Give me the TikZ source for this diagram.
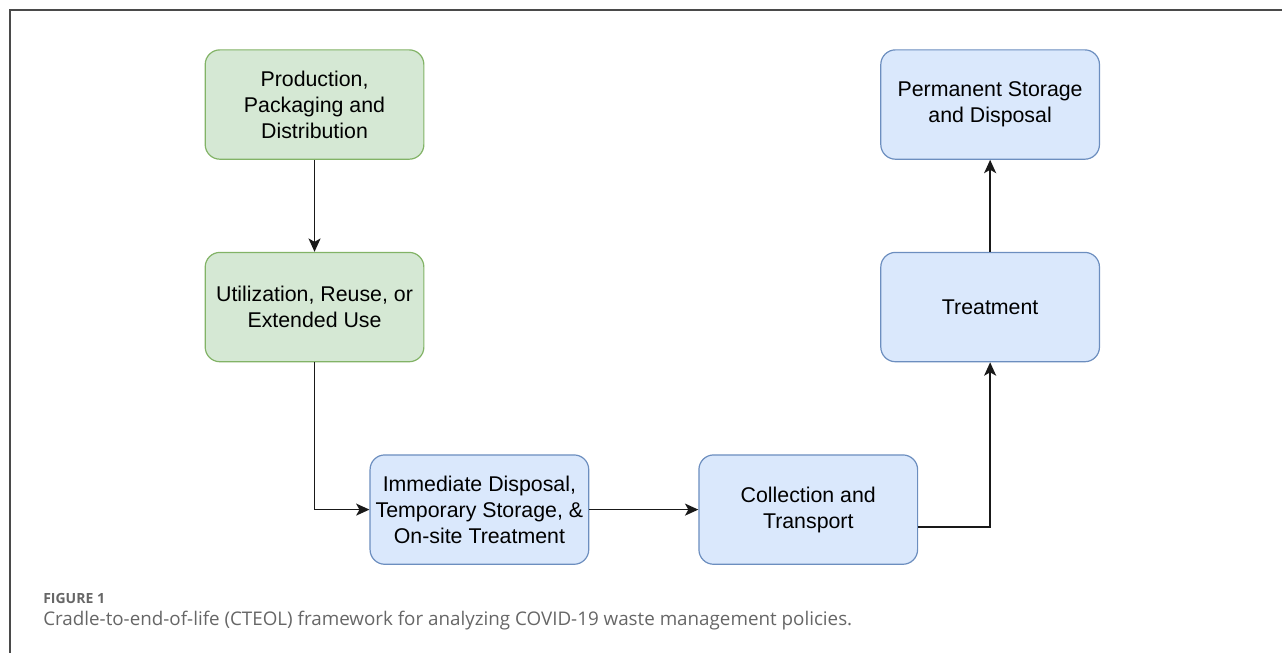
\documentclass[tikz,border=0pt]{standalone}
\usepackage{fontspec}
\setmainfont{Liberation Sans}
\newfontfamily\capfont{Open Sans}
\usetikzlibrary{positioning,arrows.meta}

\definecolor{stagefill}{HTML}{D5E8D4}
\definecolor{stageline}{HTML}{82B366}
\definecolor{wastefill}{HTML}{DAE8FC}
\definecolor{wasteline}{HTML}{6C8EBF}
\definecolor{framegray}{HTML}{4A4A4A}
\definecolor{capgray}{HTML}{666666}

\begin{document}
\begin{tikzpicture}[
	box/.style={rectangle, rounded corners=11pt, align=center, minimum width=164pt, minimum height=82pt, inner sep=0pt, line width=0.9pt, text=black, font=\fontsize{16}{19.4}\selectfont},
	stage/.style={box, draw=stageline, fill=stagefill},
	waste/.style={box, draw=wasteline, fill=wastefill},
	flow/.style={-{Stealth[length=10pt,width=9pt,inset=2.5pt]}, line width=1.2pt, black!90}
	]

	\useasboundingbox (0,0) rectangle (961.5pt,-489.75pt);
	\draw [framegray, line width=0.9pt] (7.5pt,-489.75pt) |- (961.5pt,-7.5pt);

		\node (production) [stage] at (235.9pt,-78.4pt) {Production,\\Packaging and\\Distribution};
		\node (utilization) [stage, below=69pt of production] {Utilization, Reuse, or\\Extended Use};
		\node (immediate) [waste, below right=69pt and -41.25pt of utilization] {Immediate Disposal,\\Temporary Storage, \&\\On-site Treatment};
		\node (collection) [waste, right=81.75pt of immediate] {Collection and\\Transport};
		\node (treatment) [waste, above right=69pt and -28.5pt of collection] {Treatment};
		\node (permanent) [waste, above=69pt of treatment] {Permanent Storage\\and Disposal};

	\draw [flow] (production.south) -- (utilization.north);
	\draw [flow] (utilization.south) |- (immediate.west);
	\draw [flow] (immediate.east) -- (collection.west);
	\draw [flow] ([yshift=-13pt]collection.east) -| (treatment.south);
	\draw [flow] (treatment.north) -- (permanent.south);

		\node (figlabel) [anchor=west, inner sep=0pt, text=capgray, font=\capfont\fontsize{10.5}{12}\selectfont\bfseries] at (32.25pt,-448.5pt) {FIGURE 1};
		\node (caption) [anchor=west, inner sep=0pt, text=capgray, font=\capfont\fontsize{14.1}{16}\selectfont] at (32.25pt,-465.5pt) {Cradle-to-end-of-life (CTEOL) framework for analyzing COVID-19 waste management policies.};

\end{tikzpicture}
\end{document}
